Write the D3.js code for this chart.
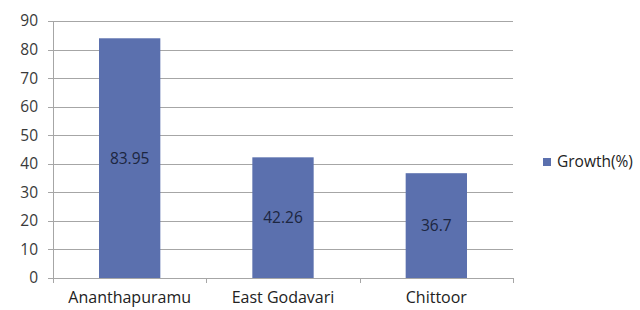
<!DOCTYPE html>
<html>
<head>
<meta charset="utf-8">
<script src="https://cdn.jsdelivr.net/npm/d3@7"></script>
<style>
  body { margin: 0; background: #fff; }
  text { font-family: "Open Sans", sans-serif; fill: #3a3a3a; }
</style>
</head>
<body>
<script>
// Chart data
var districts = ["Ananthapuramu", "East Godavari", "Chittoor"];
var growth = [83.95, 42.26, 36.7];
var yTicks = [0, 10, 20, 30, 40, 50, 60, 70, 80, 90];
var seriesName = "Growth(%)";

var width = 640,
  height = 310;

var margin = { left: 53, right: 127, top: 21, bottom: 32 };

var svg = d3.select("body")
  .append("svg")
  .attr("width", width)
  .attr("height", height);

var x = d3.scaleBand()
  .domain(districts)
  .range([margin.left, width - margin.right])
  .paddingInner(0.6)
  .paddingOuter(0.3);

var y = d3.scaleLinear()
  .domain([0, 90])
  .range([height - margin.bottom, margin.top]);

// Gridlines
svg.append("g")
  .selectAll("line")
  .data(yTicks)
  .enter()
  .append("line")
  .attr("x1", margin.left - 5)
  .attr("x2", width - margin.right)
  .attr("y1", d => Math.round(y(d)) + 0.5)
  .attr("y2", d => Math.round(y(d)) + 0.5)
  .attr("stroke", "#a6a6a6")
  .attr("stroke-width", 1);

// Y labels
svg.append("g")
  .selectAll("text")
  .data(yTicks)
  .enter()
  .append("text")
  .attr("x", margin.left - 15)
  .attr("y", d => y(d))
  .attr("dy", "0.35em")
  .attr("text-anchor", "end")
  .style("font-size", "15.5px")
  .text(d => d);

// Y axis line
svg.append("line")
  .attr("x1", margin.left + 0.5)
  .attr("x2", margin.left + 0.5)
  .attr("y1", y(90))
  .attr("y2", y(0))
  .attr("stroke", "#a6a6a6");

// Category boundary ticks
var bounds = d3.range(districts.length + 1).map(i => margin.left + i * (width - margin.left - margin.right) / districts.length);
svg.append("g")
  .selectAll("line")
  .data(bounds)
  .enter()
  .append("line")
  .attr("x1", d => Math.round(d) + 0.5)
  .attr("x2", d => Math.round(d) + 0.5)
  .attr("y1", y(0))
  .attr("y2", y(0) + 5)
  .attr("stroke", "#a6a6a6");

// Bars
svg.selectAll(".bar")
  .data(growth)
  .enter()
  .append("rect")
  .attr("class", "bar")
  .attr("x", (d, i) => x(districts[i]))
  .attr("width", x.bandwidth())
  .attr("y", d => y(d))
  .attr("height", d => y(0) - y(d))
  .attr("fill", "#5b70ae");

// Value labels
svg.selectAll(".val")
  .data(growth)
  .enter()
  .append("text")
  .attr("class", "val")
  .attr("x", (d, i) => x(districts[i]) + x.bandwidth() / 2)
  .attr("y", d => (y(d) + y(0)) / 2)
  .attr("dy", "0.35em")
  .attr("text-anchor", "middle")
  .style("font-size", "15.5px")
  .style("fill", "#1c2640")
  .text(d => d);

// Category labels
svg.selectAll(".cat")
  .data(districts)
  .enter()
  .append("text")
  .attr("class", "cat")
  .attr("x", d => x(d) + x.bandwidth() / 2)
  .attr("y", y(0) + 25)
  .attr("text-anchor", "middle")
  .style("font-size", "16px")
  .style("fill", "#222")
  .text(d => d);

// Legend
var legend = svg.append("g").attr("transform", "translate(543,162)");
legend.append("rect")
  .attr("x", 0)
  .attr("y", -4)
  .attr("width", 8)
  .attr("height", 8)
  .attr("fill", "#5b70ae");
legend.append("text")
  .attr("x", 14)
  .attr("y", 0)
  .attr("dy", "0.35em")
  .style("font-size", "15.5px")
  .style("fill", "#222")
  .text(seriesName);
</script>
</body>
</html>
